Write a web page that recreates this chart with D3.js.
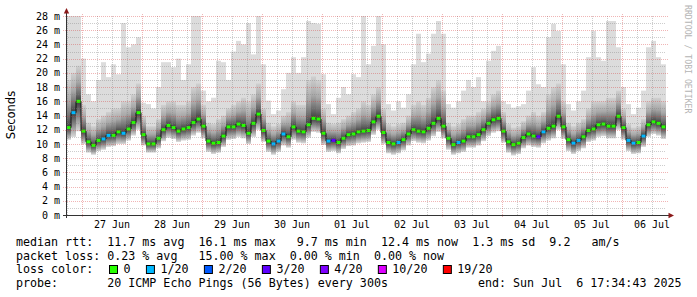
<html>
<head>
<meta charset="utf-8">
<title>Smokeping median rtt</title>
<script src="https://d3js.org/d3.v7.min.js"></script>
<style>
body {margin: 0; background: #fff;}
text {font-family: "DejaVu Sans Mono", monospace; fill: #000;}
</style>
</head>
<body>
<svg width=697 height=297></svg>
<script>

// graph end and 2 hour buckets (120 of them = 10 days)
var endTime = Date.UTC(2025, 6, 6, 17, 34, 43);
var stepMs = 2 * 3600 * 1000;

// median rtt per bucket, ms
var median = [
  12.3,14.4,16.0,11.8,10.3,9.8,10.5,10.7,11.2,11.2,11.7,11.5,12.1,13.0,14.4,11.3,10.0,10.0,10.8,12.0,12.6,12.3,11.8,12.1,
  12.3,13.0,13.5,12.5,10.4,10.1,10.2,11.1,12.4,12.4,12.8,12.6,11.5,12.9,14.2,11.9,10.4,10.0,10.4,11.4,11.0,12.4,11.8,11.7,
  12.7,13.6,13.5,11.5,10.4,10.5,10.2,10.8,11.3,11.4,11.7,11.8,11.9,13.1,13.9,11.6,10.2,10.0,10.2,10.6,11.4,12.0,11.8,11.7,
  12.2,12.9,13.6,12.5,10.8,9.9,10.2,10.4,11.0,11.0,11.3,12.0,12.9,13.4,13.6,11.8,10.3,9.9,10.1,10.9,11.4,11.1,11.0,11.7,
  12.2,12.5,13.9,12.4,10.6,10.1,10.5,11.0,11.9,12.1,12.7,12.8,12.5,12.5,13.9,12.3,10.5,10.1,10.2,11.1,12.7,13.1,12.9,12.4
];

// smoke: lowest ping, top of the dense part, highest ping
var smokeLow = [
  10.6,11.0,11.8,10.0,8.8,8.5,9.0,9.2,9.6,9.7,10.0,10.0,10.5,11.2,12.0,9.8,8.8,8.8,9.4,10.4,10.9,10.7,10.3,10.5,
  10.6,11.2,11.6,10.8,8.9,8.6,8.8,9.6,10.6,10.7,11.0,10.8,10.0,11.0,12.0,10.3,8.9,8.5,8.9,9.8,9.5,10.6,10.2,10.1,
  10.9,11.7,11.6,9.9,8.9,9.0,8.7,9.3,9.7,9.8,10.1,10.2,10.3,11.3,12.0,10.0,8.7,8.5,8.7,9.1,9.8,10.4,10.2,10.1,
  10.5,11.1,11.7,10.8,9.2,8.5,8.7,8.9,9.5,9.5,9.8,10.4,11.1,11.6,11.8,10.2,8.8,8.4,8.6,9.4,9.8,9.6,9.5,10.1,
  10.5,10.8,12.0,10.7,9.0,8.6,9.0,9.4,10.3,10.5,11.0,11.1,10.8,10.8,12.0,10.6,9.0,8.6,8.7,9.6,11.0,11.4,11.2,10.7
];
var smokeMid = [
  19,20,21,15.5,13,12.5,13.5,14,14.5,15,15,16,16,17,18.5,14,12.5,12.5,13.5,15.5,16,16,15.5,15.5,
  16,18,18.5,15.5,13,12.8,13.5,14,15,15.5,16,16.5,16,17,18.5,15,13,12.5,12.8,14,14.5,16,15.5,15.5,
  19,19.5,19,15,13,12.8,13,13.5,14,14.5,15,16,15.5,17,18,15,12.8,12.5,12.8,13,14,15.5,16,15.5,
  16.5,18,19,17.5,13,12.5,12.8,13.5,14,14,14.5,15,16,17,17.5,14.5,12.8,12.3,12.5,13.2,14,14.5,14,14.5,
  17,18,18.5,16,13,12.5,13,13.5,15,16,16,16,16.5,16.5,17.5,15,12.8,12.3,12.5,13.5,16,16.5,16.5,16
];
var smokeHigh = [
  28,28,28,22,17,16,19,21.5,19.4,21.2,19.8,27,23.6,24,25,15.8,15.6,15,18,21.5,21.5,20.8,22,19,
  21.2,28,28,17.5,16,16.5,21.7,21.5,19,23,24.5,24,27,22.6,28,21.2,16.1,14.2,14.7,17.7,20,22.2,20,22.2,
  27.3,27,26.9,19.8,15.6,14.2,16.5,18,17,19.8,19.4,28,21.2,23.8,28,24,15.6,14.7,16,15.1,17,21.2,25.5,21.5,
  22.7,25.5,27.3,25.5,15.6,15.1,16,17.5,19,18,19.4,16,21.7,23.1,23.8,16,15.6,15.1,15.3,15.6,17.5,20.8,18.4,18,
  25,26.9,25.9,21.2,15.6,14.7,16,17.5,22.2,25.9,22.2,21.7,27.3,27.3,23.6,18,15.6,14.2,15.1,17.5,23.6,24.5,22.2,21.2
];

// lost pings out of 20
var lossCount = [
  0,1,0,0,0,0,0,1,1,0,0,1,0,0,0,0,0,0,0,0,0,0,0,0,
  0,0,0,0,0,0,0,0,0,0,0,0,0,0,0,0,0,1,1,1,0,0,0,0,
  0,0,0,0,1,3,0,0,0,0,0,0,0,0,0,0,0,0,1,0,0,0,0,0,
  0,0,0,0,0,0,1,0,0,0,0,0,0,0,0,0,0,0,0,0,0,0,3,1,
  0,0,0,0,0,1,1,0,0,0,0,0,0,0,0,0,1,1,0,1,0,0,0,0
];

var lossLevels = [0, 1, 2, 3, 4, 10, 19];
var lossLabels = ["0", "1/20", "2/20", "3/20", "4/20", "10/20", "19/20"];
var lossColors = ["#26ff00", "#00b8ff", "#0059ff", "#5e00ff", "#7e00ff", "#dd00ff", "#ff0000"];

var yMajor = [0, 2, 4, 6, 8, 10, 12, 14, 16, 18, 20, 22, 24, 26, 28];
var yMinor = [1, 3, 5, 7, 9, 11, 13, 15, 17, 19, 21, 23, 25, 27];

var legendLines = [
  "median rtt:  11.7 ms avg  16.1 ms max   9.7 ms min  12.4 ms now  1.3 ms sd  9.2   am/s",
  "packet loss: 0.23 % avg   15.00 % max  0.00 % min  0.00 % now"
];
var probeText = "probe:       20 ICMP Echo Pings (56 Bytes) every 300s";
var endText = "end: Sun Jul  6 17:34:43 2025";

var svg = d3.select("svg");
var n = median.length;
var startTime = endTime - n * stepMs;

var x = d3.scaleUtc()
  .domain([new Date(startTime), new Date(endTime)])
  .range([66, 666]);
var y = d3.scaleLinear()
  .domain([0, 28])
  .range([215, 16]);

var slots = median.map(function(m, i) {
  return {
    t0: new Date(startTime + i * stepMs),
    t1: new Date(startTime + (i + 1) * stepMs),
    med: m, low: smokeLow[i], mid: smokeMid[i], high: smokeHigh[i], loss: lossCount[i]
  };
});

function lossColor(c) {
  var col = lossColors[0];
  lossLevels.forEach(function(l, k) { if (c >= l) col = lossColors[k]; });
  return col;
}

var defs = svg.append("defs");
defs.append("clipPath").attr("id", "plot")
  .append("rect").attr("x", 66).attr("y", 16).attr("width", 600).attr("height", 199);

var up = defs.append("linearGradient").attr("id", "smokeUp").attr("x1", 0).attr("y1", 0).attr("x2", 0).attr("y2", 1);
up.append("stop").attr("offset", 0).attr("stop-color", "#d0d0d0");
up.append("stop").attr("offset", 0.45).attr("stop-color", "#a8a8a8");
up.append("stop").attr("offset", 0.8).attr("stop-color", "#6a6a6a");
up.append("stop").attr("offset", 1).attr("stop-color", "#3e3e3e");
var down = defs.append("linearGradient").attr("id", "smokeDown").attr("x1", 0).attr("y1", 0).attr("x2", 0).attr("y2", 1);
down.append("stop").attr("offset", 0).attr("stop-color", "#3e3e3e");
down.append("stop").attr("offset", 0.45).attr("stop-color", "#808080");
down.append("stop").attr("offset", 1).attr("stop-color", "#d8d8d8");

var plot = svg.append("g").attr("clip-path", "url(#plot)");

// smoke
plot.selectAll("rect.light").data(slots).enter().append("rect")
  .attr("x", function(d) { return x(d.t0); })
  .attr("width", function(d) { return x(d.t1) - x(d.t0); })
  .attr("y", function(d) { return y(d.high); })
  .attr("height", function(d) { return y(d.low) - y(d.high); })
  .attr("fill", "#dcdcdc");
plot.selectAll("rect.up").data(slots).enter().append("rect")
  .attr("x", function(d) { return x(d.t0); })
  .attr("width", function(d) { return x(d.t1) - x(d.t0); })
  .attr("y", function(d) { return y(d.mid); })
  .attr("height", function(d) { return y(d.med) - y(d.mid); })
  .attr("fill", "url(#smokeUp)");
plot.selectAll("rect.down").data(slots).enter().append("rect")
  .attr("x", function(d) { return x(d.t0); })
  .attr("width", function(d) { return x(d.t1) - x(d.t0); })
  .attr("y", function(d) { return y(d.med); })
  .attr("height", function(d) { return y(d.low) - y(d.med); })
  .attr("fill", "url(#smokeDown)");

// grid, dotted
var minorCol = "rgba(130,130,130,0.4)";
var majorCol = "rgba(215,60,60,0.38)";
var grid = svg.append("g").attr("stroke-dasharray", "1,1").attr("stroke-width", 1);
grid.selectAll("line.hmin").data(yMinor).enter().append("line")
  .attr("x1", 66).attr("x2", 666)
  .attr("y1", function(d) { return Math.round(y(d)) + 0.5; })
  .attr("y2", function(d) { return Math.round(y(d)) + 0.5; })
  .attr("stroke", minorCol);
var sixHours = d3.utcHour.every(6).range(new Date(startTime), new Date(endTime))
  .filter(function(d) { return d.getUTCHours() != 0; });
grid.selectAll("line.vmin").data(sixHours).enter().append("line")
  .attr("y1", 16).attr("y2", 215)
  .attr("x1", function(d) { return Math.round(x(d)) + 0.5; })
  .attr("x2", function(d) { return Math.round(x(d)) + 0.5; })
  .attr("stroke", minorCol);
grid.selectAll("line.hmaj").data(yMajor.slice(1)).enter().append("line")
  .attr("x1", 63).attr("x2", 668)
  .attr("y1", function(d) { return Math.round(y(d)) + 0.5; })
  .attr("y2", function(d) { return Math.round(y(d)) + 0.5; })
  .attr("stroke", majorCol);
var days = d3.utcDay.range(new Date(startTime), new Date(endTime));
grid.selectAll("line.vmaj").data(days).enter().append("line")
  .attr("y1", 14).attr("y2", 218)
  .attr("x1", function(d) { return Math.round(x(d)) + 0.5; })
  .attr("x2", function(d) { return Math.round(x(d)) + 0.5; })
  .attr("stroke", majorCol);

// median line with loss colour
plot.append("path")
  .datum(slots.concat([{t0: new Date(endTime), med: median[n - 1]}]))
  .attr("fill", "none")
  .attr("stroke", "#111")
  .attr("stroke-width", 1)
  .attr("d", d3.line().curve(d3.curveStepAfter)
    .x(function(d) { return x(d.t0); })
    .y(function(d) { return y(d.med); }));
plot.selectAll("rect.med").data(slots).enter().append("rect")
  .attr("x", function(d) { return x(d.t0) + 0.5; })
  .attr("width", 4)
  .attr("y", function(d) { return y(d.med) - 1.5; })
  .attr("height", 3)
  .attr("fill", function(d) { return lossColor(d.loss); });

// axes
svg.append("line").attr("x1", 66.5).attr("x2", 66.5).attr("y1", 218).attr("y2", 12)
  .attr("stroke", "#333");
svg.append("line").attr("x1", 63).attr("x2", 670).attr("y1", 215.5).attr("y2", 215.5)
  .attr("stroke", "#333");
svg.append("path").attr("d", "M66.5,8 L63.8,13.5 L69.2,13.5 Z").attr("fill", "#8b1a1a");
svg.append("path").attr("d", "M674,215.5 L668.5,212.8 L668.5,218.2 Z").attr("fill", "#8b1a1a");

svg.append("g").selectAll("text").data(yMajor).enter().append("text")
  .attr("x", 60)
  .attr("y", function(d) { return y(d) + 3.6; })
  .attr("text-anchor", "end")
  .style("font-size", "10px")
  .text(function(d) { return d + " m"; });

svg.append("g").selectAll("text").data(days).enter().append("text")
  .attr("x", function(d) { return x(d3.utcHour.offset(d, 12)); })
  .attr("y", 228)
  .attr("text-anchor", "middle")
  .style("font-size", "10px")
  .text(d3.utcFormat("%d %b"));

svg.append("text")
  .attr("transform", "translate(15,115) rotate(-90)")
  .attr("text-anchor", "middle")
  .style("font-family", "'DejaVu Sans', sans-serif")
  .style("font-size", "11.5px")
  .text("Seconds");

svg.append("text")
  .attr("transform", "translate(685,5) rotate(90)")
  .style("font-size", "8.2px")
  .style("fill", "#b4b4b4")
  .text("RRDTOOL / TOBI OETIKER");

// legend
var legend = svg.append("g").style("font-size", "11.66px").attr("xml:space", "preserve");
legend.selectAll("text.line").data(legendLines).enter().append("text")
  .attr("x", 16)
  .attr("y", function(d, i) { return 246 + i * 13.5; })
  .style("white-space", "pre")
  .text(function(d) { return d; });
legend.append("text").attr("x", 16).attr("y", 273).text("loss color:");

var pos = 109;
lossLabels.forEach(function(lab, k) {
  legend.append("rect")
    .attr("x", pos + 0.5).attr("y", 265.5).attr("width", 8).attr("height", 8)
    .attr("fill", lossColors[k]).attr("stroke", "#000");
  legend.append("text").attr("x", pos + 14.5).attr("y", 273).text(lab);
  pos += 14.5 + lab.length * 7.02 + 15.4;
});

legend.append("text").attr("x", 16).attr("y", 286.5).style("white-space", "pre").text(probeText);
legend.append("text").attr("x", 478).attr("y", 286.5).style("white-space", "pre").text(endText);

</script>
</body>
</html>
